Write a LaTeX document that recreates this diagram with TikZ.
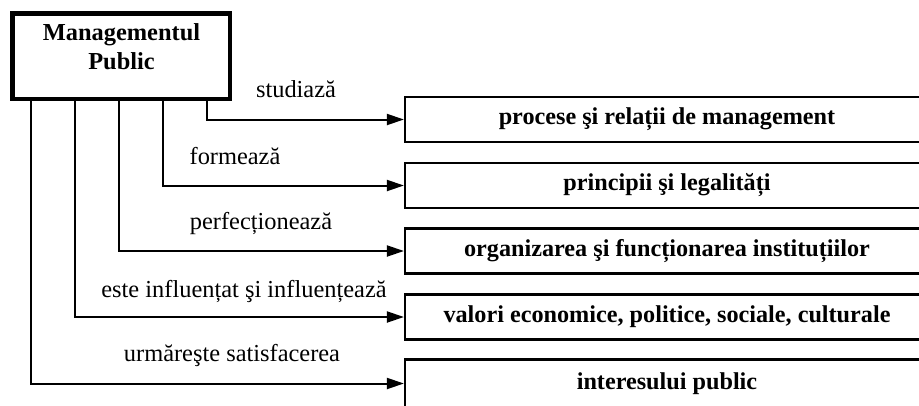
\documentclass[tikz,border=0pt]{standalone}
\usepackage{fontspec}
\setmainfont{Liberation Serif}
\usetikzlibrary{arrows.meta}
\begin{document}
\begin{tikzpicture}[x=1pt,y=-1pt,
  target/.style={draw,line width=2.2pt,minimum width=524pt,minimum height=45pt,inner sep=0pt,
    font=\fontsize{24.2}{29}\selectfont\bfseries},
  conn/.style={line width=2pt,-{Triangle[length=17pt,width=11pt]}},
  lbl/.style={anchor=base,inner sep=0pt,font=\fontsize{24.4}{29}\selectfont}]
\useasboundingbox (0,0) rectangle (919,405);
\clip (0,0) rectangle (919,405);
\fill[white] (0,0) rectangle (919,405);
% main box
\node[draw,line width=4.5pt,minimum width=217.5pt,minimum height=85.5pt,inner sep=0pt] (mp) at (121.25,56.25) {};
\node[inner sep=0pt,align=center,font=\fontsize{24.4}{29}\selectfont\bfseries] (mpt) at (121.5,46.5) {Managementul\\Public};
% target boxes
\node[target] (b1) at (667,119.5) {procese şi relații de management};
\node[target] (b2) at (667,185.5) {principii şi legalități};
\node[target] (b3) at (667,251) {organizarea şi funcționarea instituțiilor};
\node[target] (b4) at (667,317) {valori economice, politice, sociale, culturale};
\node[target,minimum height=48pt] (b5) at (667,383.5) {interesului public};
% connectors
\draw[conn] ([xshift=196.5pt]mp.south west) |- (b1.west);
\draw[conn] ([xshift=152.5pt]mp.south west) |- (b2.west);
\draw[conn] ([xshift=108.5pt]mp.south west) |- (b3.west);
\draw[conn] ([xshift=64.5pt]mp.south west) |- (b4.west);
\draw[conn] ([xshift=20.5pt]mp.south west) |- (b5.west);
% labels
\node[lbl] (l1) at (296,97) {studiază};
\node[lbl] (l2) at (235,164) {formează};
\node[lbl] (l3) at (261,229) {perfecționează};
\node[lbl] (l4) at (244,297) {este influențat şi influențează};
\node[lbl] (l5) at (232,361) {urmăreşte satisfacerea};
\end{tikzpicture}
\end{document}
